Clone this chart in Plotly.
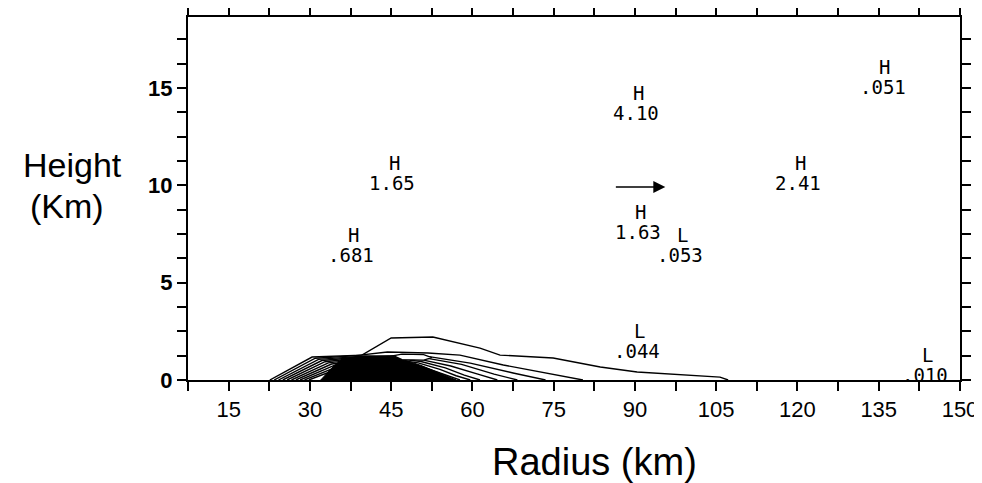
import plotly.graph_objects as go

# ---- data ----
# Contour lines (radius km, height km), outermost first
c1_x = [22.6, 30.4, 39.6, 45.0, 52.7, 61.4, 65.1, 74.9, 83.6, 90.4, 105.7, 107.2]
c1_y = [0, 1.18, 1.28, 2.16, 2.21, 1.64, 1.28, 1.13, 0.67, 0.41, 0.15, 0]
c2_x = [23.4, 31.0, 38.0, 44.3, 51.8, 57.7, 65.7, 70.7, 75.6, 80.4]
c2_y = [0, 1.12, 1.24, 1.44, 1.39, 1.28, 0.77, 0.51, 0.26, 0]
c3_x = [24.2, 31.6, 38.5, 45.5, 52.0, 59.6, 67.5, 72.5, 73.5]
c3_y = [0, 1.06, 1.20, 1.25, 1.20, 0.87, 0.36, 0.05, 0]
c4_x = [25.0, 32.2, 39.0, 46.0, 52.0, 58.0, 64.0, 68.3]
c4_y = [0, 1.00, 1.17, 1.20, 1.10, 0.80, 0.30, 0]
c5_x = [25.8, 32.8, 39.5, 46.0, 51.0, 56.0, 61.0, 64.6]
c5_y = [0, 0.94, 1.14, 1.15, 1.02, 0.72, 0.30, 0]
c6_x = [26.6, 33.4, 40.0, 46.0, 50.5, 55.0, 58.5, 61.4]
c6_y = [0, 0.88, 1.10, 1.10, 0.95, 0.62, 0.25, 0]
c7_x = [27.4, 34.0, 40.5, 45.5, 50.0, 54.0, 57.0, 59.6]
c7_y = [0, 0.82, 1.05, 1.05, 0.88, 0.55, 0.22, 0]
c8_x = [28.2, 34.6, 41.0, 45.5, 49.5, 53.0, 57.7]
c8_y = [0, 0.76, 1.00, 0.98, 0.80, 0.45, 0]
c9_x = [29.0, 35.2, 41.0, 45.0, 49.0, 52.0, 55.9]
c9_y = [0, 0.70, 0.95, 0.92, 0.72, 0.40, 0]
c10_x = [29.8, 35.8, 41.0, 44.5, 48.0, 51.0, 54.0]
c10_y = [0, 0.64, 0.90, 0.86, 0.65, 0.35, 0]
# dense core of the contour cluster
core_x = [32.0, 34.0, 36.0, 40.0, 44.5, 47.5, 50.5, 54.0, 57.0, 32.0]
core_y = [0, 0.60, 1.10, 1.24, 1.22, 1.02, 0.75, 0.35, 0, 0]
# small inner closed contour
inner_x = [45.5, 47.0, 51.0, 52.5, 51.0, 47.0, 45.5]
inner_y = [1.25, 1.33, 1.30, 1.15, 1.02, 1.05, 1.25]

# extrema labels
ext_kind = ["H", "H", "H", "H", "L", "H", "H", "L", "L"]
ext_value = ["1.65", ".681", "4.10", "1.63", ".053", "2.41", ".051", ".044", ".010"]
ext_x = [45.2, 37.6, 90.2, 90.6, 98.4, 120.1, 135.7, 90.4, 143.6]
ext_y = [10.12, 6.42, 13.71, 7.60, 6.42, 10.12, 15.05, 1.49, 0.26]

# wind arrow (tail -> head)
arrow_x = [86.2, 95.6]
arrow_y = [9.91, 9.91]

# axes
x_ticks = [7.5 * k for k in range(1, 21)]
x_labels = [str(int(v)) if v % 15 == 0 else "" for v in x_ticks]
y_ticks = [1.25 * k for k in range(0, 15)]
y_labels = ["<b>%d</b>" % v if v % 5 == 0 else "" for v in y_ticks]

contours = [(c1_x, c1_y), (c2_x, c2_y), (c3_x, c3_y), (c4_x, c4_y), (c5_x, c5_y),
            (c6_x, c6_y), (c7_x, c7_y), (c8_x, c8_y), (c9_x, c9_y), (c10_x, c10_y)]

fig = go.Figure()
fig.add_trace(go.Scatter(x=core_x, y=core_y, mode="lines", fill="toself",
                         fillcolor="black", line=dict(color="black", width=1),
                         hoverinfo="skip", showlegend=False))
for cx, cy in contours:
    fig.add_trace(go.Scatter(x=cx, y=cy, mode="lines",
                             line=dict(color="black", width=1.4),
                             hoverinfo="skip", showlegend=False))
fig.add_trace(go.Scatter(x=inner_x, y=inner_y, mode="lines", fill="toself",
                         fillcolor="white", line=dict(color="black", width=1.2),
                         hoverinfo="skip", showlegend=False))

mono = dict(family="DejaVu Sans Mono", size=19, color="black")
for k, v, x, y in zip(ext_kind, ext_value, ext_x, ext_y):
    fig.add_annotation(x=x, y=y, text=v, showarrow=False, font=mono,
                       xanchor="center", yanchor="middle")
    fig.add_annotation(x=x, y=y, text=k, showarrow=False, font=mono,
                       xanchor="center", yanchor="middle", yshift=20, xshift=2)

fig.add_annotation(x=arrow_x[1], y=arrow_y[1], ax=arrow_x[0], ay=arrow_y[0],
                   xref="x", yref="y", axref="x", ayref="y", text="",
                   showarrow=True, arrowhead=2, arrowsize=1.6, arrowwidth=1.5,
                   arrowcolor="black")

title_font = dict(family="Liberation Sans, Arial", size=34, color="black")
fig.add_annotation(xref="paper", yref="paper", x=-0.150, y=0.592, text="Height",
                   showarrow=False, font=title_font, xanchor="center", yanchor="middle")
fig.add_annotation(xref="paper", yref="paper", x=-0.157, y=0.478, text="(Km)",
                   showarrow=False, font=title_font, xanchor="center", yanchor="middle")
fig.add_annotation(xref="paper", yref="paper", x=0.526, y=-0.226, text="Radius (km)",
                   showarrow=False, font=dict(family="Liberation Sans, Arial", size=38, color="black"),
                   xanchor="center", yanchor="middle")

fig.update_layout(
    width=974, height=475,
    margin=dict(l=180, r=22, t=9, b=103, autoexpand=False),
    paper_bgcolor="white", plot_bgcolor="white",
    xaxis=dict(range=[7.5, 150], tickmode="array", tickvals=x_ticks, ticktext=x_labels,
               ticks="outside", ticklen=9, tickwidth=1.5, tickcolor="black",
               showline=True, linewidth=2, linecolor="black", mirror="ticks",
               showgrid=False, zeroline=False, automargin=False,
               tickfont=dict(family="Liberation Sans, Arial", size=22, color="black")),
    yaxis=dict(range=[0, 18.65], tickmode="array", tickvals=y_ticks, ticktext=y_labels,
               ticks="outside", ticklen=9, tickwidth=1.5, tickcolor="black",
               showline=True, linewidth=2, linecolor="black", mirror="ticks",
               showgrid=False, zeroline=False, automargin=False,
               tickfont=dict(family="Liberation Sans, Arial", size=22, color="black")),
)

fig.write_html("out.html")
